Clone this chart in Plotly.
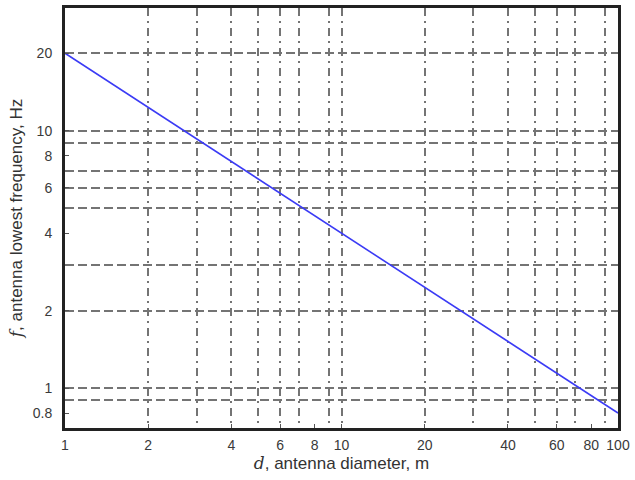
import plotly.graph_objects as go

# Antenna diameter (m) and lowest usable frequency (Hz)
diameter = [1, 10, 100]
frequency = [20, 4, 0.8]

# Labelled ticks
x_ticks = [1, 2, 4, 6, 8, 10, 20, 40, 60, 80, 100]
x_tick_text = ["1", "2", "4", "6", "8", "10", "20", "40", "60", "80", "100"]
y_ticks = [0.8, 1, 2, 4, 6, 8, 10, 20]
y_tick_text = ["0.8", "1", "2", "4", "6", "8", "10", "20"]

# Grid line positions
x_grid = [2, 3, 4, 5, 6, 7, 9, 10, 20, 30, 40, 50, 60, 70, 90]
y_grid = [0.9, 1, 2, 3, 5, 6, 7, 9, 10, 20]

x_range = [0, 2]
y_range = [-0.155, 1.477]

fig = go.Figure()

# invisible trace carrying the grid overlay axes
fig.add_trace(go.Scatter(x=[1, 100], y=[1, 10], xaxis="x2", yaxis="y2",
                         mode="markers", marker=dict(opacity=0),
                         hoverinfo="skip", showlegend=False))

fig.add_trace(go.Scatter(x=diameter, y=frequency, mode="lines",
                         line=dict(color="#3b3bf5", width=1.6),
                         showlegend=False))

font = dict(family="Liberation Sans, Arial, sans-serif", size=14, color="#3a3a3a")
title_font = dict(family="Liberation Sans, Arial, sans-serif", size=17, color="#333333")
serif = "font-family:'DejaVu Serif', serif"

fig.update_layout(
    width=635, height=480,
    margin=dict(l=65, r=11, t=5, b=52),
    paper_bgcolor="white", plot_bgcolor="white",
    font=font,
    xaxis=dict(type="log", range=x_range, tickvals=x_ticks, ticktext=x_tick_text,
               showgrid=False, zeroline=False, showline=True, mirror=True,
               linecolor="#222222", linewidth=3, ticks="inside", ticklen=4,
               tickcolor="#555555", tickfont=font, ticklabelstandoff=2,
               ticklabeloverflow="allow",
               title=dict(text=f"<span style=\"{serif}\"><i>d</i></span>, antenna diameter, m",
                          font=title_font, standoff=4)),
    yaxis=dict(type="log", range=y_range, tickvals=y_ticks, ticktext=y_tick_text,
               showgrid=False, zeroline=False, showline=True, mirror=True,
               linecolor="#222222", linewidth=3, ticks="inside", ticklen=4,
               tickcolor="#555555", tickfont=font, ticklabelstandoff=7,
               ticklabeloverflow="allow",
               title=dict(text=f"<span style=\"{serif}\"><i>f</i></span>, antenna lowest frequency, Hz",
                          font=title_font, standoff=6)),
    xaxis2=dict(type="log", range=x_range, overlaying="x", tickvals=x_grid,
                showticklabels=False, ticks="", showgrid=True,
                gridcolor="#747474", gridwidth=2, griddash="8px,5px,2px,5px",
                zeroline=False, showline=False),
    yaxis2=dict(type="log", range=y_range, overlaying="y", tickvals=y_grid,
                showticklabels=False, ticks="", showgrid=True,
                gridcolor="#747474", gridwidth=2, griddash="9px,4px",
                zeroline=False, showline=False),
)

fig.write_html("out.html")
